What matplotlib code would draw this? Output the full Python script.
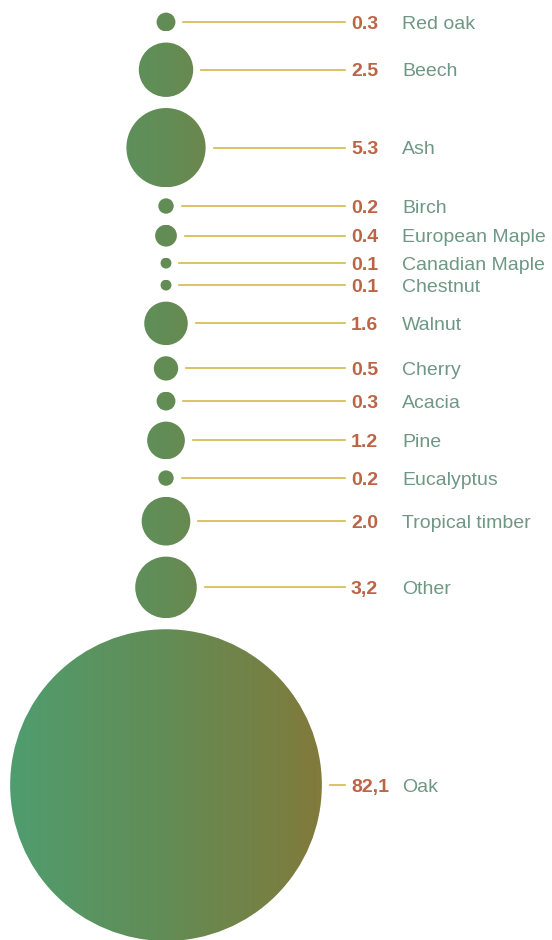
import numpy as np
import matplotlib
matplotlib.use("Agg")
import matplotlib.pyplot as plt
from matplotlib.patches import Circle
from matplotlib.colors import LinearSegmentedColormap

# wood species share (%)
names = ["Red oak", "Beech", "Ash", "Birch", "European Maple", "Canadian Maple",
         "Chestnut", "Walnut", "Cherry", "Acacia", "Pine", "Eucalyptus",
         "Tropical timber", "Other", "Oak"]
values = [0.3, 2.5, 5.3, 0.2, 0.4, 0.1, 0.1, 1.6, 0.5, 0.3, 1.2, 0.2, 2.0, 3.2, 82.1]
value_labels = ["0.3", "2.5", "5.3", "0.2", "0.4", "0.1", "0.1", "1.6", "0.5",
                "0.3", "1.2", "0.2", "2.0", "3,2", "82,1"]

W, H = 552, 940
k = 17.2        # radius per sqrt(value), px
gap = 11.1      # vertical gap between circles
cx = 166
top = 12.6
line_end = 345
val_x = 351
lab_x = 402

grad = LinearSegmentedColormap.from_list("wood", ["#4f9d6f", "#638c55", "#817a3b"])
line_col = "#d4b84c"
val_col = "#bb6546"
lab_col = "#6f9785"

fig = plt.figure(figsize=(W / 100, H / 100), dpi=100)
ax = fig.add_axes([0, 0, 1, 1])
ax.set_xlim(0, W)
ax.set_ylim(H, 0)
ax.axis("off")

radii = [k * np.sqrt(v) for v in values]
rmax = max(radii)
gx0, gx1 = cx - rmax, cx + rmax
g = np.linspace(0, 1, 256).reshape(1, -1)

y = top
for name, v, vl, r in zip(names, values, value_labels, radii):
    cy = y + r
    circ = Circle((cx, cy), r, facecolor="none", edgecolor="none")
    ax.add_patch(circ)
    im = ax.imshow(g, cmap=grad, extent=(gx0, gx1, cy + r, cy - r),
                   aspect="auto", interpolation="bilinear", zorder=2)
    im.set_clip_path(circ)
    ax.plot([cx + r + 8, line_end], [cy, cy], color=line_col, lw=1.2, zorder=1)
    ax.text(val_x, cy, vl, color=val_col, fontsize=14, fontweight="bold",
            family="Liberation Sans", va="center_baseline", ha="left")
    ax.text(lab_x, cy, name, color=lab_col, fontsize=14,
            family="Liberation Sans", va="center_baseline", ha="left")
    y = cy + r + gap

ax.set_xlim(0, W)
ax.set_ylim(H, 0)
fig.savefig("out.png", dpi=100, facecolor="white")
